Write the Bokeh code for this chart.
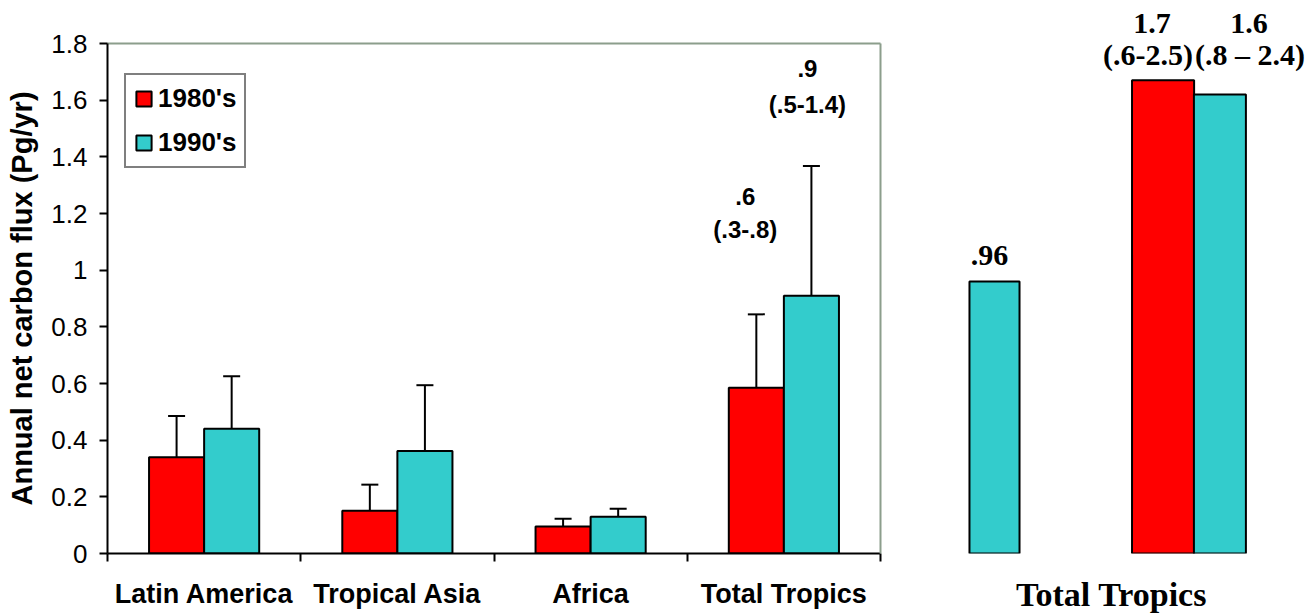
from bokeh.plotting import figure
from bokeh.models import (ColumnDataSource, Range1d, FixedTicker, LinearAxis, Whisker,
                          TeeHead, Legend, LegendItem, NumeralTickFormatter, LabelSet)
from bokeh.transform import dodge
from bokeh.layouts import row
from bokeh.core.properties import value
from bokeh.embed import file_html
from bokeh.resources import INLINE

# ---------------- data ----------------
categories = ["Latin America", "Tropical Asia", "Africa", "Total Tropics"]
flux_1980 = [0.34, 0.151, 0.095, 0.585]
low_1980 = [0.172, 0.088, 0.074, 0.32]
high_1980 = [0.485, 0.243, 0.123, 0.844]
flux_1990 = [0.44, 0.362, 0.13, 0.91]
low_1990 = [0.222, 0.193, 0.125, 0.50]
high_1990 = [0.626, 0.594, 0.158, 1.368]
series_names = ["1980's", "1990's"]
note_1980 = [".6", "(.3-.8)"]
note_1990 = [".9", "(.5-1.4)"]
y_ticks = [0, 0.2, 0.4, 0.6, 0.8, 1.0, 1.2, 1.4, 1.6, 1.8]
y_label = "Annual net carbon flux (Pg/yr)"

# right panel: other estimates for the total tropics
alt_groups = ["single estimate", "decadal estimate"]
alt_single_1990 = [0.96]
alt_1980 = [1.67]
alt_1990 = [1.62]
alt_single_note = [".96"]
alt_note_1980 = ["1.7", "(.6-2.5)"]
alt_note_1990 = ["1.6", "(.8 \u2013 2.4)"]
alt_title = "Total Tropics"

# ---------------- styles ----------------
RED = "#FF0000"
CYAN = "#33CCCC"
BORDER = "#8c9e8c"
SANS = "Liberation Sans"
SERIF = "Liberation Serif"

H = 615
TOP, BOTTOM = 43, 60
Y_MAX = 1.8

# ---------------- left panel ----------------
idx = list(range(len(categories)))
src = ColumnDataSource(dict(x=idx, cat=categories,
                            v80=flux_1980, lo80=low_1980, hi80=high_1980,
                            v90=flux_1990, lo90=low_1990, hi90=high_1990))

p1 = figure(width=912, height=H, x_range=Range1d(-0.5, len(categories) - 0.5),
            y_range=Range1d(0, Y_MAX), output_backend="svg", toolbar_location=None,
            min_border_left=107, min_border_right=32, min_border_top=TOP,
            min_border_bottom=BOTTOM)
p1.xgrid.grid_line_color = None
p1.ygrid.grid_line_color = None
p1.outline_line_color = None
p1.background_fill_color = "white"
p1.border_fill_color = "white"

xa = p1.xaxis[0]
xa.ticker = FixedTicker(ticks=idx, minor_ticks=[i - 0.5 for i in range(len(categories) + 1)])
xa.major_label_overrides = {i: c for i, c in enumerate(categories)}
xa.major_tick_line_color = None
xa.major_tick_out = 0
xa.major_tick_in = 0
xa.minor_tick_in = 0
xa.minor_tick_out = 8
xa.minor_tick_line_color = "black"
xa.minor_tick_line_width = 2
xa.axis_line_color = "black"
xa.axis_line_width = 2
xa.major_label_standoff = 17
xa.major_label_text_font = SANS
xa.major_label_text_font_style = "bold"
xa.major_label_text_font_size = "27px"
xa.major_label_text_color = "black"

ya = p1.yaxis[0]
ya.ticker = FixedTicker(ticks=y_ticks)
ya.formatter = NumeralTickFormatter(format="0.[0]")
ya.major_tick_out = 8
ya.major_tick_in = 0
ya.major_tick_line_width = 2
ya.major_tick_line_color = "black"
ya.minor_tick_line_color = None
ya.axis_line_color = "black"
ya.axis_line_width = 2
ya.major_label_standoff = 12
ya.major_label_text_font = SANS
ya.major_label_text_font_size = "26px"
ya.major_label_text_color = "black"
ya.axis_label = y_label
ya.axis_label_standoff = 10
ya.axis_label_text_font = SANS
ya.axis_label_text_font_style = "bold"
ya.axis_label_text_font_size = "29px"
ya.axis_label_text_color = "black"

# top and right frame borders
for side in ("above", "right"):
    ax = LinearAxis(ticker=FixedTicker(ticks=[]), axis_line_color=BORDER, axis_line_width=2,
                    major_tick_line_color=None, minor_tick_line_color=None,
                    major_label_text_color=None, major_label_standoff=0)
    p1.add_layout(ax, side)

BW = 0.285
r80 = p1.vbar(x=dodge("x", -BW / 2), top="v80", width=BW, source=src,
              fill_color=RED, line_color="black", line_width=2)
r90 = p1.vbar(x=dodge("x", BW / 2), top="v90", width=BW, source=src,
              fill_color=CYAN, line_color="black", line_width=2)

for off, lo, hi in ((-BW / 2, "lo80", "hi80"), (BW / 2, "lo90", "hi90")):
    w = Whisker(source=src, base=dodge("x", off), lower=lo, upper=hi,
                line_color="black", line_width=2,
                upper_head=TeeHead(size=17, line_color="black", line_width=2),
                lower_head=TeeHead(size=17, line_color="black", line_width=2))
    p1.add_layout(w)

legend = Legend(items=[LegendItem(label=series_names[0], renderers=[r80]),
                       LegendItem(label=series_names[1], renderers=[r90])],
                location=(17, 385), margin=0, padding=8, spacing=13,
                glyph_width=19, glyph_height=19, label_standoff=5,
                label_text_font=SANS, label_text_font_style="bold",
                label_text_font_size="26px", label_text_color="black",
                border_line_color="black", border_line_width=2,
                background_fill_color="white", background_fill_alpha=1)
p1.add_layout(legend)

last = len(categories) - 1
note_src = ColumnDataSource(dict(x=[last], hi80=[high_1980[last]], hi90=[high_1990[last]],
                                 a80=[note_1980[0]], b80=[note_1980[1]],
                                 a90=[note_1990[0]], b90=[note_1990[1]]))
note_style = dict(source=note_src, text_align="center", text_baseline="middle",
                  text_font=value(SANS), text_font_style="bold", text_font_size="24px",
                  text_color="black")
p1.text(x=dodge("x", -BW / 2), y="hi80", text="a80", x_offset=-11, y_offset=-118, **note_style)
p1.text(x=dodge("x", -BW / 2), y="hi80", text="b80", x_offset=-11, y_offset=-85, **note_style)
p1.text(x=dodge("x", BW / 2), y="hi90", text="a90", x_offset=-4, y_offset=-97, **note_style)
p1.text(x=dodge("x", BW / 2), y="hi90", text="b90", x_offset=-4, y_offset=-61, **note_style)

# ---------------- right panel ----------------
PX_PER_UNIT = 194.0
p2 = figure(width=398, height=H, x_range=Range1d(-0.4227, 1.629),
            y_range=Range1d(0, Y_MAX),
            output_backend="svg", toolbar_location=None, y_axis_location=None,
            min_border_left=0, min_border_right=0, min_border_top=TOP,
            min_border_bottom=BOTTOM)
p2.xgrid.grid_line_color = None
p2.ygrid.grid_line_color = None
p2.outline_line_color = None
p2.background_fill_color = "white"
p2.border_fill_color = "white"

xb = p2.xaxis[0]
xb.ticker = FixedTicker(ticks=[])
xb.axis_line_color = None
xb.major_tick_line_color = None
xb.minor_tick_line_color = None
xb.major_label_standoff = 0
xb.major_tick_out = 0
xb.axis_label = alt_title
xb.axis_label_standoff = 22
xb.axis_label_text_font = SERIF
xb.axis_label_text_font_style = "bold"
xb.axis_label_text_font_size = "34px"
xb.axis_label_text_color = "black"

g_single = alt_groups.index("single estimate")
g_pair = alt_groups.index("decadal estimate")
OFF80, OFF90 = -0.131, 0.162

single_src = ColumnDataSource(dict(x=[g_single], v=alt_single_1990, note=alt_single_note))
pair_top = max(alt_1980[0], alt_1990[0])
pair_src = ColumnDataSource(dict(x=[g_pair], v80=alt_1980, v90=alt_1990, top=[pair_top],
                                 b80=[alt_note_1980[1]], b90=[alt_note_1990[1]]))

p2.vbar(x="x", top="v", width=0.258, source=single_src,
        fill_color=CYAN, line_color="black", line_width=2)
p2.vbar(x=dodge("x", OFF80), top="v80", width=0.32, source=pair_src,
        fill_color=RED, line_color="black", line_width=2)
p2.vbar(x=dodge("x", OFF90), top="v90", width=0.268, source=pair_src,
        fill_color=CYAN, line_color="black", line_width=2)

serif_style = dict(text_align="center", text_baseline="middle", text_font=value(SERIF),
                   text_font_style="bold", text_font_size="30px", text_color="black")
for x, y, txt, src_, dx, dy in (("x", "v", "note", single_src, -5, 26),
                                (dodge("x", OFF80), "top", "b80", pair_src, -15, 26),
                                (dodge("x", OFF90), "top", "b90", pair_src, 30, 26)):
    p2.add_layout(LabelSet(x=x, y=y, text=txt, source=src_, x_offset=dx, y_offset=dy,
                           **serif_style))

# the central estimates sit above the frame: shown as labels of an axis above
t80 = g_pair + OFF80 - 11 / PX_PER_UNIT
t90 = g_pair + OFF90 + 29 / PX_PER_UNIT
top_axis = LinearAxis(ticker=FixedTicker(ticks=[t80, t90]),
                      major_label_overrides={t80: alt_note_1980[0], t90: alt_note_1990[0]},
                      axis_line_color=None, major_tick_line_color=None,
                      minor_tick_line_color=None, major_tick_out=0, major_tick_in=0,
                      major_label_standoff=11, major_label_text_font=SERIF,
                      major_label_text_font_style="bold", major_label_text_font_size="30px",
                      major_label_text_color="black")
p2.add_layout(top_axis, "above")

layout = row(p1, p2)
open("out.html", "w").write(file_html(layout, INLINE))
